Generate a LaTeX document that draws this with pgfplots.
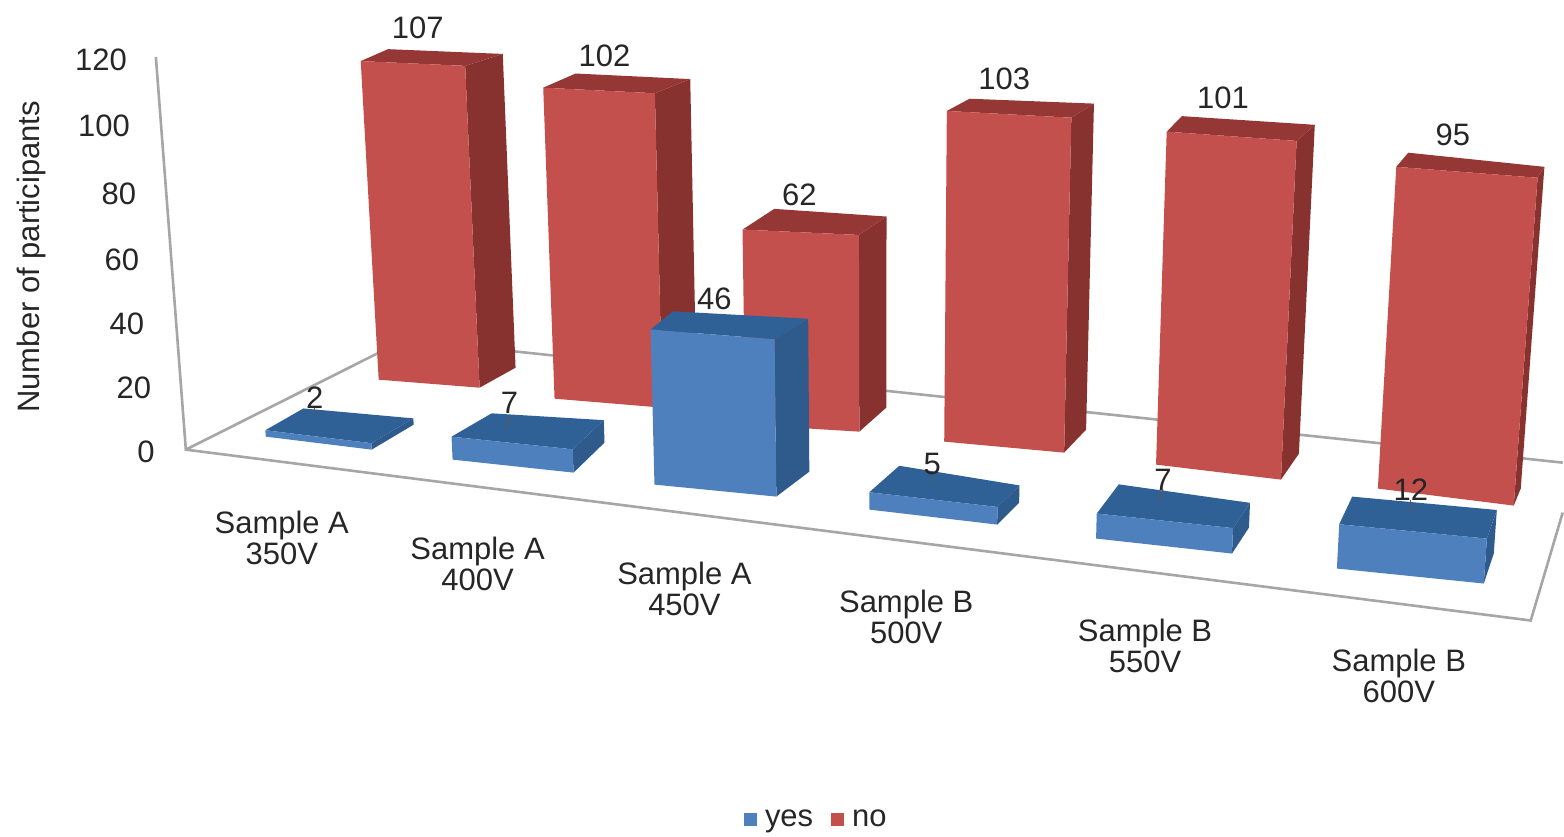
\documentclass[border=0pt]{standalone}
\usepackage{fontspec}
\setmainfont{Liberation Sans}
\usepackage{pgfplots}
\pgfplotsset{compat=1.18}

\definecolor{nofront}{HTML}{C4504D}
\definecolor{noside}{HTML}{883230}
\definecolor{notop}{HTML}{953735}
\definecolor{yesfront}{HTML}{4F80BE}
\definecolor{yesside}{HTML}{2F5A8C}
\definecolor{yestop}{HTML}{2F6096}
\definecolor{wall}{HTML}{A6A6A6}

% picture is laid out in reference pixels (1 px = 0.5 pt); heights come from the value
\newcommand{\threedbar}[6]{% series, value, base corners FL FR BR BL
  \edef\v{#2}%
  \threedbarfaces{#1}#3#4#5#6%
}
\newcommand{\threedbarfaces}[9]{%
  \def\flx{#2}\def\fly{#3}\def\frx{#4}\def\fry{#5}\def\brx{#6}\def\bry{#7}\def\blx{#8}\def\bly{#9}%
  \addplot[fill=#1side,draw=none,forget plot] coordinates {
    (\frx,\fry) (\brx,\bry) ({tx(\brx,\bry,\v)},{ty(\bry,\v)}) ({tx(\frx,\fry,\v)},{ty(\fry,\v)})} -- cycle;
  \addplot[fill=#1top,draw=none,forget plot] coordinates {
    ({tx(\flx,\fly,\v)},{ty(\fly,\v)}) ({tx(\frx,\fry,\v)},{ty(\fry,\v)})
    ({tx(\brx,\bry,\v)},{ty(\bry,\v)}) ({tx(\blx,\bly,\v)},{ty(\bly,\v)})} -- cycle;
  \addplot[fill=#1front,draw=none,forget plot] coordinates {
    (\flx,\fly) (\frx,\fry) ({tx(\frx,\fry,\v)},{ty(\fry,\v)}) ({tx(\flx,\fly,\v)},{ty(\fly,\v)})} -- cycle;
}

\begin{document}
\begin{tikzpicture}[font=\fontsize{15.5}{15.5}\selectfont,text=black!85]
\begin{axis}[
  scale only axis,
  width=782pt,
  height=418.5pt,
  xmin=0, xmax=1564,
  ymin=0, ymax=837,
  y dir=reverse,
  axis lines=none,
  clip=false,
  declare function={
    ss(\y)=2.98+(\y-380)*0.00376;
    tx(\x,\y,\v)=\x+(\x-875)/8800*ss(\y)*\v;
    ty(\y,\v)=\y-ss(\y)*\v;
  },
  every node/.append style={inner sep=0pt},
  legend columns=2,
  legend style={at={(axis cs:818,820)},anchor=center,draw=none,fill=none,inner sep=0pt,
    font=\fontsize{15.5}{15.5}\selectfont,text=black!85,
    /tikz/every odd column/.style={column sep=2.5pt},
    /tikz/every even column/.style={column sep=7pt}},
  legend cell align=left,
]
\path (axis cs:0,0) rectangle (axis cs:1564,837);
\addlegendimage{only marks,mark=square*,mark size=3pt,color=yesfront}
\addlegendentry{yes}
\addlegendimage{only marks,mark=square*,mark size=3pt,color=nofront}
\addlegendentry{no}

% floor and wall edges
\addplot[wall,line width=1.3pt,forget plot] coordinates {(156,57) (186,450) (1532,621) (1564,513)};
\addplot[wall,line width=1.3pt,forget plot] coordinates {(186,450) (405,340) (1564,463)};

% no
\threedbar{no}{107}{{379}{380}}{{480}{388}}{{516}{368}}{{405}{360}}
\threedbar{no}{102}{{555}{399}}{{663}{408}}{{697}{385}}{{586}{376}}
\threedbar{no}{62}{{746}{425}}{{860}{432}}{{887}{408}}{{777}{398}}
\threedbar{no}{103}{{945}{442}}{{1065}{453}}{{1087}{430}}{{967}{422}}
\threedbar{no}{101}{{1157}{465}}{{1282}{480}}{{1300}{454}}{{1172}{440}}
\threedbar{no}{95}{{1379}{489}}{{1515}{506}}{{1522}{489}}{{1391}{467}}

% yes
\threedbar{yes}{2}{{266}{437}}{{372}{450}}{{414}{425}}{{304}{415}}
\threedbar{yes}{7}{{453}{460}}{{574}{473}}{{605}{443}}{{493}{436}}
\threedbar{yes}{46}{{655}{485}}{{777}{497}}{{810}{472}}{{677}{463}}
\threedbar{yes}{5}{{870}{510}}{{998}{525}}{{1020}{503}}{{900}{483}}
\threedbar{yes}{7}{{1097}{539}}{{1233}{554}}{{1250}{528}}{{1119}{509}}
\threedbar{yes}{12}{{1338}{569}}{{1485}{584}}{{1495}{554}}{{1351}{540}}

% leader lines of the small bars
\addplot[black!65,line width=0.6pt,forget plot] coordinates {(315,408) (315,417)};
\addplot[black!65,line width=0.6pt,forget plot] coordinates {(510,416) (507,428)};
\addplot[black!65,line width=0.6pt,forget plot] coordinates {(933,476) (933,484)};
\addplot[black!65,line width=0.6pt,forget plot] coordinates {(1164,490) (1161,500)};
\addplot[black!65,line width=0.6pt,forget plot] coordinates {(1412,500) (1412,512)};

% value labels
\node at (axis cs:418,28) {107};
\node at (axis cs:605,56) {102};
\node at (axis cs:800,195) {62};
\node at (axis cs:1005,79) {103};
\node at (axis cs:1224,98) {101};
\node at (axis cs:1454,135) {95};
\node at (axis cs:315,398) {2};
\node at (axis cs:510,403) {7};
\node at (axis cs:715,299) {46};
\node at (axis cs:933,464) {5};
\node at (axis cs:1164,480) {7};
\node at (axis cs:1412,490) {12};

% value axis
\node at (axis cs:101,60) {120};
\node at (axis cs:104,126) {100};
\node at (axis cs:119,194) {80};
\node at (axis cs:122,260) {60};
\node at (axis cs:127,324) {40};
\node at (axis cs:134,388) {20};
\node at (axis cs:146,452) {0};
\node[rotate=90] at (axis cs:32,257) {Number of participants};

% categories
\node[align=center] at (axis cs:282,538) {Sample A\\350V};
\node[align=center] at (axis cs:478,564) {Sample A\\400V};
\node[align=center] at (axis cs:685,589) {Sample A\\450V};
\node[align=center] at (axis cs:907,617) {Sample B\\500V};
\node[align=center] at (axis cs:1146,646) {Sample B\\550V};
\node[align=center] at (axis cs:1400,676) {Sample B\\600V};
\end{axis}
\end{tikzpicture}
\end{document}
